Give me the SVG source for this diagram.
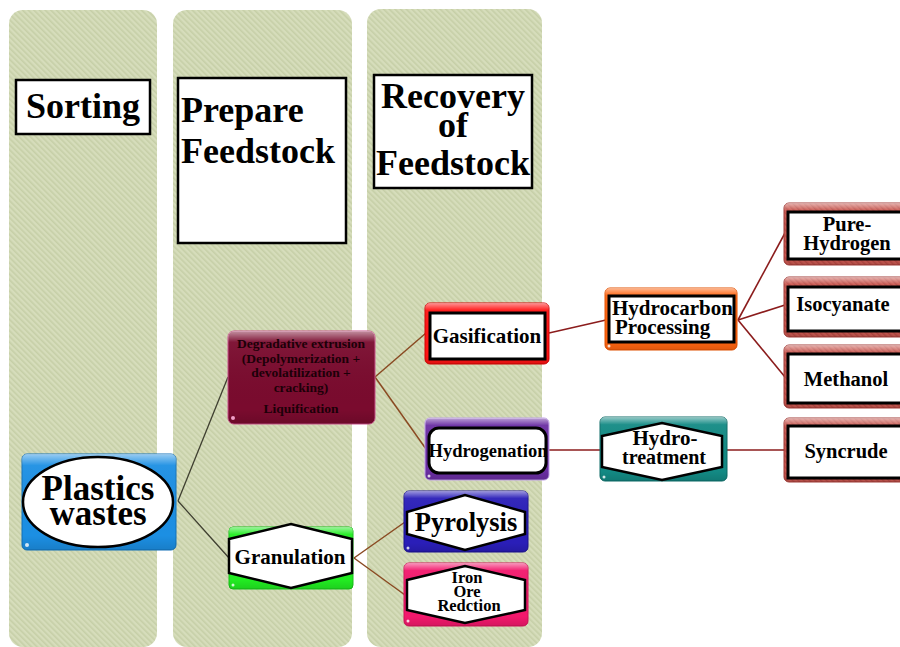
<svg xmlns="http://www.w3.org/2000/svg" width="900" height="647" viewBox="0 0 900 647">
<defs>
<pattern id="stripes" width="4" height="4" patternUnits="userSpaceOnUse" patternTransform="rotate(-45)">
<rect width="4" height="4" fill="#d6ddbb"/>
<rect width="1.6" height="4" fill="#c6cfa7"/>
</pattern>
<linearGradient id="gloss" x1="0" y1="0" x2="0" y2="1">
<stop offset="0" stop-color="#fff" stop-opacity="0.55"/>
<stop offset="0.12" stop-color="#fff" stop-opacity="0.05"/>
<stop offset="0.85" stop-color="#000" stop-opacity="0"/>
<stop offset="1" stop-color="#000" stop-opacity="0.12"/>
</linearGradient>
<pattern id="rose" width="4" height="4" patternUnits="userSpaceOnUse" patternTransform="rotate(-45)">
<rect width="4" height="4" fill="#cc5a52"/>
<rect width="1.5" height="4" fill="#b84a44"/>
</pattern>
</defs>
<style>
.col{fill:url(#stripes);}
.hdr{fill:#fff;stroke:#000;stroke-width:2.5;}
.t{font-family:"Liberation Serif","Times New Roman",serif;font-weight:bold;fill:#000;}
.box{stroke-width:1;}
.gl{fill:url(#gloss);}
.inner{fill:#fff;stroke:#000;stroke-width:3;}
.hex{fill:#fff;stroke:#000;stroke-width:2.5;stroke-linejoin:miter;}
.dot{fill:#fff;opacity:0.8;}
.c1{fill:none;stroke:#3f3f30;stroke-width:1.3;}
.c2{fill:none;stroke:#8a4a22;stroke-width:1.5;}
.c3{fill:none;stroke:#8b1c1c;stroke-width:1.6;}
</style>
<rect width="900" height="647" fill="#fff"/>

<g id="columns">
<rect class="col" x="9" y="10" width="148" height="637" rx="14"/>
<rect class="col" x="173" y="10" width="179" height="637" rx="14"/>
<rect class="col" x="367" y="9" width="175" height="638" rx="14"/>
</g>

<g id="hdr-sorting">
<rect class="hdr" x="16" y="80" width="134" height="54"/>
<text class="t" x="83" y="118" font-size="36" text-anchor="middle">Sorting</text>
</g>
<g id="hdr-prepare">
<rect class="hdr" x="178" y="78" width="168" height="165"/>
<text class="t" x="181" y="122" font-size="36">Prepare</text>
<text class="t" x="181" y="163" font-size="36">Feedstock</text>
</g>
<g id="hdr-recovery">
<rect class="hdr" x="374" y="75" width="158" height="113"/>
<text class="t" x="453" y="108" font-size="36" text-anchor="middle">Recovery</text>
<text class="t" x="453" y="137" font-size="36" text-anchor="middle">of</text>
<text class="t" x="453" y="175" font-size="36" text-anchor="middle">Feedstock</text>
</g>

<g id="connectors">
<path class="c1" d="M178 501 L228 377"/>
<path class="c1" d="M178 501 L229 558"/>
<path class="c2" d="M375 377 L426 333"/>
<path class="c2" d="M375 377 L426 449"/>
<path class="c2" d="M354 558 L405 522"/>
<path class="c2" d="M354 558 L405 595"/>
<path class="c3" d="M549 333 L606 320"/>
<path class="c3" d="M549 450 L601 450"/>
<path class="c3" d="M738 320 L785 233"/>
<path class="c3" d="M738 320 L785 305"/>
<path class="c3" d="M738 320 L785 377"/>
<path class="c3" d="M727 450 L785 450"/>
</g>

<g id="plastics">
<rect class="box" x="22" y="454" width="154" height="96" rx="5" fill="#1c8fe3" stroke="#1370b8"/>
<rect class="gl" x="22" y="454" width="154" height="96" rx="5"/>
<circle class="dot" cx="27" cy="545" r="2"/>
<ellipse cx="98" cy="502" rx="75" ry="45" fill="#fff" stroke="#000" stroke-width="2.5"/>
<text class="t" x="98" y="500" font-size="35" text-anchor="middle">Plastics</text>
<text class="t" x="98" y="525" font-size="35" text-anchor="middle">wastes</text>
</g>

<g id="degradative">
<rect class="box" x="228" y="331" width="147" height="93" rx="6" fill="#7a0b2e" stroke="#c8508a"/>
<rect class="gl" x="228" y="331" width="147" height="93" rx="6"/>
<circle cx="233" cy="418" r="2" fill="#f0a0c8"/>
<g class="t" font-size="13.5" text-anchor="middle" style="fill:#1c0008">
<text x="301" y="348">Degradative extrusion</text>
<text x="301" y="363">(Depolymerization +</text>
<text x="301" y="377">devolatilization +</text>
<text x="301" y="392">cracking)</text>
<text x="301" y="413">Liquification</text>
</g>
</g>

<g id="granulation">
<rect class="box" x="229" y="527" width="124" height="62" rx="4" fill="#22ec22" stroke="#18c018"/>
<rect class="gl" x="229" y="527" width="124" height="62" rx="4"/>
<circle class="dot" cx="233" cy="585" r="1.5"/>
<polygon class="hex" points="229,539 291,524 352,539 352,573 291,588 229,573"/>
<text class="t" x="290" y="564" font-size="21" text-anchor="middle">Granulation</text>
</g>

<g id="gasification">
<rect class="box" x="425" y="303" width="124" height="61" rx="5" fill="#ff1414" stroke="#d00000"/>
<rect class="gl" x="425" y="303" width="124" height="61" rx="5"/>
<rect class="inner" x="430" y="313" width="115" height="46"/>
<text class="t" x="487" y="343" font-size="21" text-anchor="middle">Gasification</text>
</g>

<g id="hydrogenation">
<rect class="box" x="425" y="418" width="124" height="62" rx="5" fill="#6a2ea2" stroke="#bfa0e8"/>
<rect class="gl" x="425" y="418" width="124" height="62" rx="5"/>
<circle class="dot" cx="429" cy="476" r="1.5"/>
<rect class="inner" x="429" y="428" width="117" height="45" rx="10"/>
<text class="t" x="488" y="457" font-size="18.5" text-anchor="middle">Hydrogenation</text>
</g>

<g id="pyrolysis">
<rect class="box" x="404" y="491" width="124" height="61" rx="5" fill="#2a1eb8" stroke="#1a1090"/>
<rect class="gl" x="404" y="491" width="124" height="61" rx="5"/>
<circle class="dot" cx="408" cy="548" r="1.5"/>
<polygon class="hex" points="407,512 465,495 525,512 525,534 465,550 407,534"/>
<text class="t" x="466" y="531" font-size="26.5" text-anchor="middle">Pyrolysis</text>
</g>

<g id="iron">
<rect class="box" x="404" y="563" width="124" height="63" rx="5" fill="#f2186c" stroke="#d01058"/>
<rect class="gl" x="404" y="563" width="124" height="63" rx="5"/>
<circle class="dot" cx="408" cy="621" r="1.5"/>
<polygon class="hex" points="407,580 465,566 525,580 525,610 465,623 407,610"/>
<g class="t" font-size="16.5" text-anchor="middle">
<text x="467" y="583">Iron</text>
<text x="467" y="597">Ore</text>
<text x="469" y="611">Redction</text>
</g>
</g>

<g id="hydrocarbon">
<rect class="box" x="605" y="288" width="132" height="62" rx="5" fill="#ff6410" stroke="#e05000"/>
<rect class="gl" x="605" y="288" width="132" height="62" rx="5"/>
<circle class="dot" cx="609" cy="346" r="1.5"/>
<rect class="inner" x="609" y="296" width="125" height="46"/>
<text class="t" x="612" y="315" font-size="21">Hydrocarbon</text>
<text class="t" x="615" y="334" font-size="21">Processing</text>
</g>

<g id="hydrotreatment">
<rect class="box" x="600" y="417" width="127" height="64" rx="5" fill="#138a84" stroke="#0c6a66"/>
<rect class="gl" x="600" y="417" width="127" height="64" rx="5"/>
<circle class="dot" cx="604" cy="477" r="1.5"/>
<polygon class="hex" points="602,436 662,423 722,436 722,467 662,480 602,467"/>
<text class="t" x="665" y="445" font-size="21" text-anchor="middle">Hydro-</text>
<text class="t" x="664" y="464" font-size="20" text-anchor="middle">treatment</text>
</g>

<g id="pure-hydrogen">
<rect class="box" x="784" y="203" width="130" height="62" rx="5" fill="url(#rose)" stroke="#a03a36"/>
<rect class="gl" x="784" y="203" width="130" height="62" rx="5"/>
<rect class="inner" x="788" y="212" width="125" height="47"/>
<text class="t" x="847" y="231" font-size="20.5" text-anchor="middle">Pure-</text>
<text class="t" x="847" y="250" font-size="20.5" text-anchor="middle">Hydrogen</text>
</g>

<g id="isocyanate">
<rect class="box" x="784" y="277" width="130" height="60" rx="5" fill="url(#rose)" stroke="#a03a36"/>
<rect class="gl" x="784" y="277" width="130" height="60" rx="5"/>
<rect class="inner" x="788" y="287" width="125" height="44"/>
<text class="t" x="843" y="311" font-size="20.5" text-anchor="middle">Isocyanate</text>
</g>

<g id="methanol">
<rect class="box" x="784" y="345" width="130" height="63" rx="5" fill="url(#rose)" stroke="#a03a36"/>
<rect class="gl" x="784" y="345" width="130" height="63" rx="5"/>
<rect class="inner" x="788" y="354" width="125" height="49"/>
<text class="t" x="846" y="386" font-size="20.5" text-anchor="middle">Methanol</text>
</g>

<g id="syncrude">
<rect class="box" x="784" y="418" width="130" height="64" rx="5" fill="url(#rose)" stroke="#a03a36"/>
<rect class="gl" x="784" y="418" width="130" height="64" rx="5"/>
<rect class="inner" x="788" y="426" width="125" height="52"/>
<text class="t" x="846" y="458" font-size="20.5" text-anchor="middle">Syncrude</text>
</g>
</svg>
